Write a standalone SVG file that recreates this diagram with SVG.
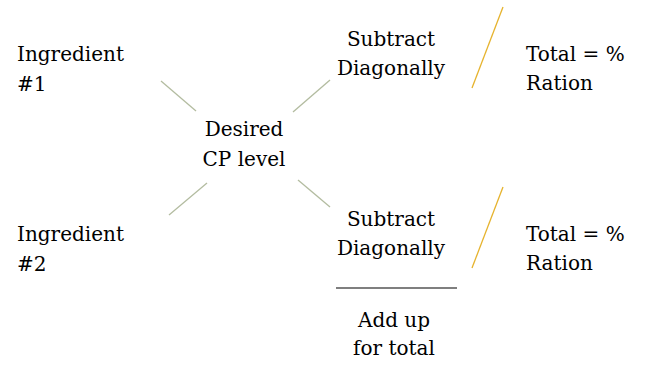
<svg xmlns="http://www.w3.org/2000/svg" width="666" height="377" viewBox="0 0 666 377">
<style>
text{font-family:"DejaVu Serif","Liberation Serif",serif;font-size:20px;fill:#000}
.c{text-anchor:middle}
.g{stroke:#b3bca0;stroke-width:1.3}
.y{stroke:#e6b32e;stroke-width:1.3}
.k{stroke:#555;stroke-width:1.3}
</style>
<rect width="666" height="377" fill="#fff"/>
<g id="connectors">
<line class="g" x1="161" y1="81" x2="196" y2="111"/>
<line class="g" x1="330" y1="80" x2="293" y2="112"/>
<line class="g" x1="207" y1="183" x2="169" y2="215"/>
<line class="g" x1="298" y1="180" x2="330" y2="207"/>
<line class="y" x1="503" y1="7" x2="472" y2="88"/>
<line class="y" x1="503" y1="187" x2="472" y2="268"/>
<line class="k" x1="336" y1="288" x2="457" y2="288"/>
</g>
<g id="ingredient1"><text x="17" y="61">Ingredient</text><text x="17" y="91">#1</text></g>
<g id="ingredient2"><text x="17" y="241">Ingredient</text><text x="17" y="271">#2</text></g>
<g id="desired"><text class="c" x="244" y="136">Desired</text><text class="c" x="244" y="166">CP level</text></g>
<g id="subtract1"><text class="c" x="391" y="46">Subtract</text><text class="c" x="391" y="75">Diagonally</text></g>
<g id="subtract2"><text class="c" x="391" y="226">Subtract</text><text class="c" x="391" y="255">Diagonally</text></g>
<g id="total1"><text x="526" y="61">Total = %</text><text x="526" y="90">Ration</text></g>
<g id="total2"><text x="526" y="241">Total = %</text><text x="526" y="270">Ration</text></g>
<g id="addup"><text class="c" x="394" y="327">Add up</text><text class="c" x="394" y="355">for total</text></g>
</svg>
